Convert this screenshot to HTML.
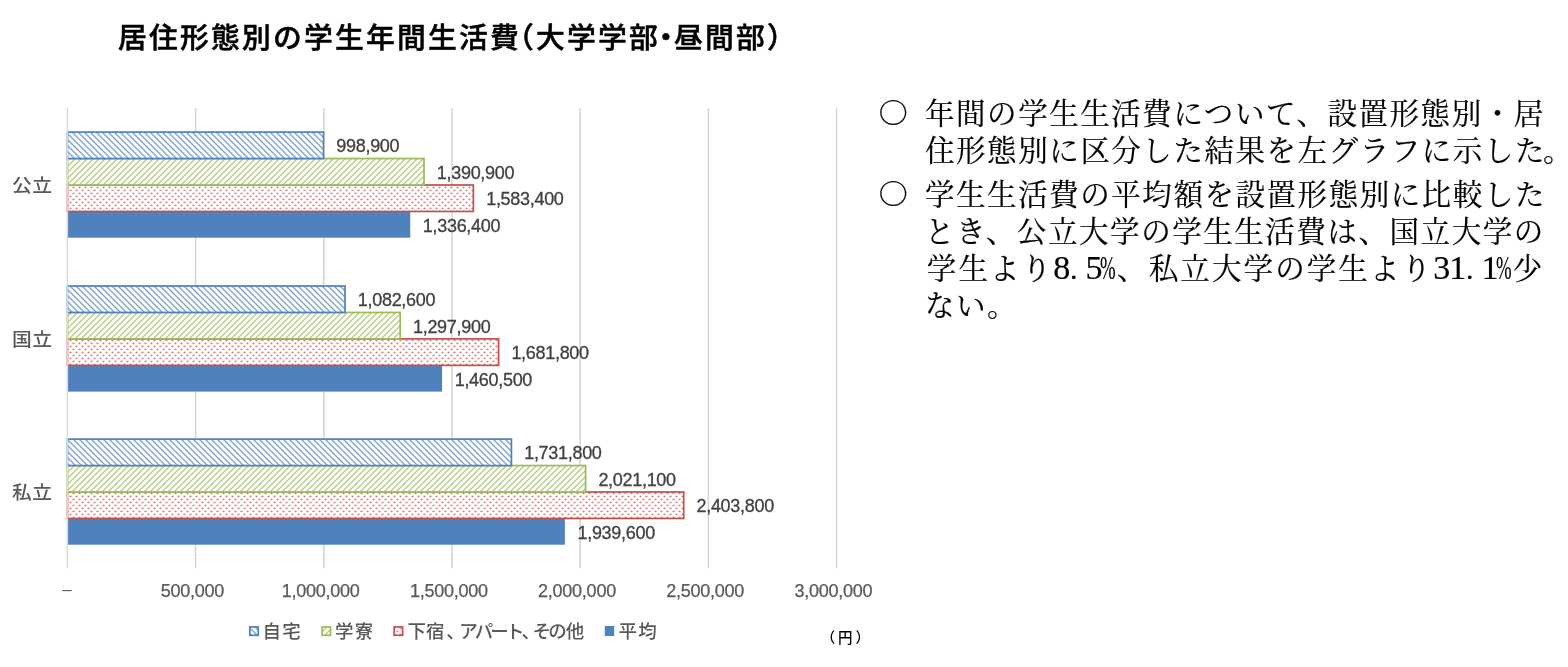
<!DOCTYPE html>
<html lang="ja"><head><meta charset="utf-8"><title>居住形態別の学生年間生活費</title>
<style>
html,body{margin:0;padding:0;background:#fff;}
body{width:1568px;height:667px;position:relative;overflow:hidden;font-family:"Liberation Sans","Noto Sans CJK JP",sans-serif;}
.chart{position:absolute;left:0;top:0;}
.title{position:absolute;left:118px;top:15px;font-size:28.8px;line-height:46px;font-weight:500;color:#000;white-space:nowrap;letter-spacing:2.2px;-webkit-text-stroke:0.5px #000;font-family:"Liberation Sans","Noto Sans CJK JP",sans-serif;}
.title span{display:inline-block;}
.title .p1{margin-left:-16px;}
.title .p2{margin-left:-8.5px;margin-right:-8.5px;}
.note.c{font-family:"Noto Serif CJK JP","Noto Serif CJK SC",serif;}

.dl{position:absolute;font-size:18px;line-height:24px;letter-spacing:-0.3px;color:#404040;white-space:nowrap;-webkit-text-stroke:0.3px #404040;}
.ax{position:absolute;top:578.7px;-webkit-text-stroke:0.25px #595959;width:120px;text-align:center;font-size:18px;line-height:24px;letter-spacing:-0.25px;color:#595959;white-space:nowrap;}
.dash{position:absolute;left:57px;top:577.5px;width:20px;text-align:center;font-size:17px;line-height:24px;color:#595959;}
.cat{position:absolute;left:11.6px;width:40px;font-size:18px;line-height:28px;color:#595959;white-space:nowrap;letter-spacing:0.5px;font-weight:500;transform:scaleX(1.1);transform-origin:0 0;}
.lg{position:absolute;top:617.8px;font-size:18.5px;line-height:28px;color:#595959;white-space:nowrap;font-weight:500;}
.lg span{letter-spacing:-2.8px;}
.yen{position:absolute;left:820.7px;top:627px;font-size:14.5px;line-height:22px;font-weight:500;color:#000;white-space:nowrap;}
.note{position:absolute;font-family:"Liberation Serif","Noto Serif CJK JP","Noto Serif CJK SC",serif;font-size:29.5px;line-height:37px;color:#000;white-space:nowrap;font-weight:400;-webkit-text-stroke:0.2px #000;letter-spacing:1.55px;}
.note.l5{letter-spacing:2.12px;}
.note .tk{margin-left:-3px;}
.note .d{font-size:34px;letter-spacing:-0.9px;line-height:30px;}
.note .dp{display:inline-block;font-size:30px;width:15.4px;padding-left:0.6px;letter-spacing:0;line-height:30px;text-align:left;}
.note .pc{display:inline-block;font-size:34px;letter-spacing:0;line-height:30px;transform-origin:0 50%;transform:scaleX(0.55);margin-right:-11.4px;margin-left:-1.4px;}
.note.c{transform:translateY(-3.3px) scaleY(0.93);}
</style></head><body>
<svg class="chart" width="900" height="667" viewBox="0 0 900 667">
<defs>
<pattern id="pb" width="6" height="6" patternUnits="userSpaceOnUse"><rect width="6" height="6" fill="#fff"/><path d="M-1,-1L7,7M-1,5L1,7M5,-1L7,1" stroke="#4F81BD" stroke-width="1.5" stroke-opacity="0.7"/></pattern>
<pattern id="pg" width="6" height="6" patternUnits="userSpaceOnUse"><rect width="6" height="6" fill="#fff"/><path d="M-1,7L7,-1M-1,1L1,-1M5,7L7,5" stroke="#9BBB59" stroke-width="1.5" stroke-opacity="0.7"/></pattern>
<pattern id="pr" width="6" height="6" patternUnits="userSpaceOnUse"><rect width="6" height="6" fill="#fff"/><rect x="0.5" y="0.7" width="2" height="1.5" fill="#C0504D" fill-opacity="0.75"/><rect x="3.5" y="3.7" width="2" height="1.5" fill="#C0504D" fill-opacity="0.75"/></pattern>
</defs>
<rect x="194.88" y="108.2" width="1.5" height="460.0" fill="#D4D4D4"/>
<rect x="323.06" y="108.2" width="1.5" height="460.0" fill="#D4D4D4"/>
<rect x="451.24" y="108.2" width="1.5" height="460.0" fill="#D4D4D4"/>
<rect x="579.42" y="108.2" width="1.5" height="460.0" fill="#D4D4D4"/>
<rect x="707.60" y="108.2" width="1.5" height="460.0" fill="#D4D4D4"/>
<rect x="835.78" y="108.2" width="1.5" height="460.0" fill="#D4D4D4"/>
<rect x="67.45" y="210.95" width="342.80" height="26.75" fill="#4F81BD"/>
<rect x="67.45" y="185.00" width="405.92" height="26.45" fill="url(#pr)" stroke="#C0504D" stroke-width="1.7"/>
<rect x="67.45" y="158.55" width="356.57" height="26.45" fill="url(#pg)" stroke="#9BBB59" stroke-width="1.7"/>
<rect x="67.45" y="132.10" width="256.08" height="26.45" fill="url(#pb)" stroke="#4F81BD" stroke-width="1.7"/>
<rect x="67.45" y="364.85" width="374.61" height="26.75" fill="#4F81BD"/>
<rect x="67.45" y="338.90" width="431.15" height="26.45" fill="url(#pr)" stroke="#C0504D" stroke-width="1.7"/>
<rect x="67.45" y="312.45" width="332.73" height="26.45" fill="url(#pg)" stroke="#9BBB59" stroke-width="1.7"/>
<rect x="67.45" y="286.00" width="277.54" height="26.45" fill="url(#pb)" stroke="#4F81BD" stroke-width="1.7"/>
<rect x="67.45" y="517.95" width="497.44" height="26.75" fill="#4F81BD"/>
<rect x="67.45" y="492.00" width="616.24" height="26.45" fill="url(#pr)" stroke="#C0504D" stroke-width="1.7"/>
<rect x="67.45" y="465.55" width="518.13" height="26.45" fill="url(#pg)" stroke="#9BBB59" stroke-width="1.7"/>
<rect x="67.45" y="439.10" width="443.96" height="26.45" fill="url(#pb)" stroke="#4F81BD" stroke-width="1.7"/>
<rect x="66.65" y="108.2" width="1.5" height="460.0" fill="#D9D9D9"/>
<rect x="249.8" y="626.9" width="8.4" height="8.4" fill="url(#pb)" stroke="#4F81BD" stroke-width="1.7"/>
<rect x="322.1" y="626.9" width="8.4" height="8.4" fill="url(#pg)" stroke="#9BBB59" stroke-width="1.7"/>
<rect x="394.2" y="626.9" width="8.4" height="8.4" fill="url(#pr)" stroke="#C0504D" stroke-width="1.7"/>
<rect x="604.8" y="626" width="9.4" height="10" fill="#4F81BD"/>
</svg>
<div class="title">居住形態別の学生年間生活費<span class="p1">（</span>大学学部<span class="p2">・</span>昼間部<span class="p3">）</span></div>
<div class="dl" style="left:422.8px;top:213.6px">1,336,400</div>
<div class="dl" style="left:486.2px;top:187.1px">1,583,400</div>
<div class="dl" style="left:436.8px;top:160.7px">1,390,900</div>
<div class="dl" style="left:336.3px;top:134.2px">998,900</div>
<div class="cat" style="top:172.3px">公立</div>
<div class="dl" style="left:454.7px;top:367.5px">1,460,500</div>
<div class="dl" style="left:511.4px;top:341.0px">1,681,800</div>
<div class="dl" style="left:413.0px;top:314.6px">1,297,900</div>
<div class="dl" style="left:357.8px;top:288.1px">1,082,600</div>
<div class="cat" style="top:326.2px">国立</div>
<div class="dl" style="left:577.5px;top:520.6px">1,939,600</div>
<div class="dl" style="left:696.5px;top:494.1px">2,403,800</div>
<div class="dl" style="left:598.4px;top:467.7px">2,021,100</div>
<div class="dl" style="left:524.2px;top:441.2px">1,731,800</div>
<div class="cat" style="top:479.3px">私立</div>
<div class="ax" style="left:132.4px">500,000</div>
<div class="ax" style="left:260.6px">1,000,000</div>
<div class="ax" style="left:388.8px">1,500,000</div>
<div class="ax" style="left:517.0px">2,000,000</div>
<div class="ax" style="left:645.2px">2,500,000</div>
<div class="ax" style="left:773.3px">3,000,000</div>
<div class="dash">–</div>
<div class="lg" style="left:262.4px;letter-spacing:1.4px">自宅</div>
<div class="lg" style="left:335px;letter-spacing:1.2px">学寮</div>
<div class="lg" style="left:407.5px">下宿<span style="margin-left:1.8px">、</span><span style="margin-left:-2.7px">アパート、</span><span style="margin-left:-4.5px">その</span><span style="margin-left:1.8px">他</span></div>
<div class="lg" style="left:618.5px;letter-spacing:1.2px">平均</div>
<div class="yen"><span style="margin-right:2.9px">（</span>円<span style="margin-left:3px">）</span></div>
<div class="note c" style="left:878.5px;top:96.4px">○</div>
<div class="note" style="left:925px;top:96.4px">年間の学生生活費について、設置形態別・居</div>
<div class="note" style="left:925px;top:133.1px">住形態別に区分した結果を左グラフに示した<span class="tk">。</span></div>
<div class="note c" style="left:878.5px;top:176.9px">○</div>
<div class="note" style="left:925px;top:176.9px">学生生活費の平均額を設置形態別に比較した</div>
<div class="note" style="left:925px;top:213.5px">とき、公立大学の学生生活費は、国立大学の</div>
<div class="note l5" style="left:926.8px;top:250.8px">学生より<span class="d">8</span><span class="dp">.</span><span class="d">5</span><span class="pc">%</span>、私立大学の学生より<span class="d">31</span><span class="dp">.</span><span class="d">1</span><span class="pc">%</span>少</div>
<div class="note" style="left:925px;top:287.9px">ない。</div>
</body></html>
